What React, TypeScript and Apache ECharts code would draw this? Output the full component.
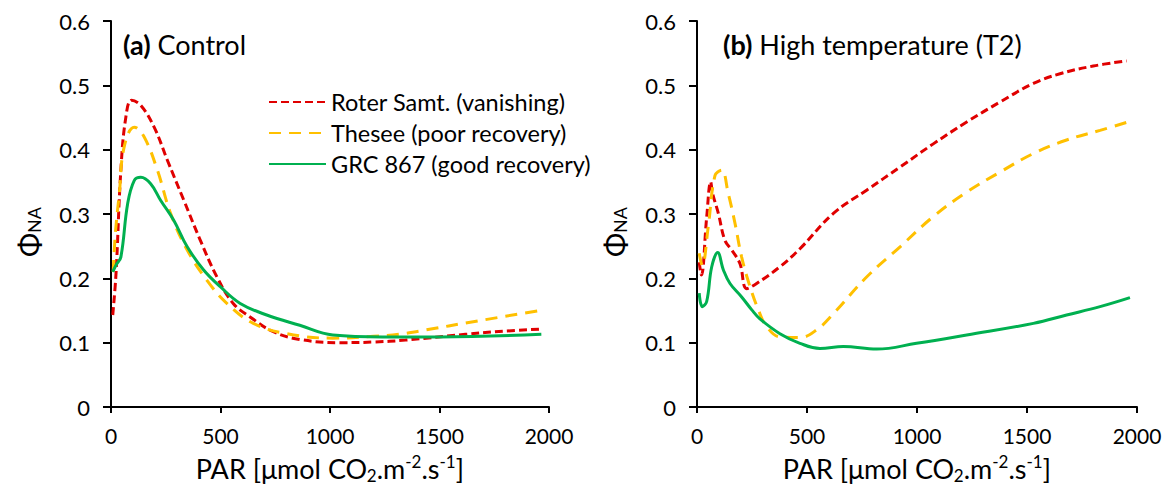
import React, { useEffect, useRef } from "react";
import * as echarts from "echarts";

// Panel (a) Control
const ctrlRoter: [number, number][] = [[8,0.143],[23,0.208],[45,0.368],[68,0.451],[94,0.477],[136,0.469],[197,0.435],[257,0.384],[333,0.321],[408,0.259],[484,0.202],[558,0.161],[635,0.140],[741,0.117],[862,0.105],[1043,0.100],[1200,0.101],[1345,0.104],[1618,0.113],[1799,0.118],[1958,0.121]];
const ctrlThesee: [number, number][] = [[10,0.21],[20,0.27],[38,0.332],[60,0.404],[106,0.435],[151,0.42],[212,0.368],[272,0.301],[348,0.244],[438,0.197],[529,0.161],[650,0.130],[801,0.114],[1013,0.107],[1200,0.110],[1315,0.113],[1406,0.118],[1678,0.134],[1960,0.150]];
const ctrlGRC: [number, number][] = [[8,0.21],[25,0.222],[45,0.233],[76,0.316],[106,0.352],[136,0.357],[181,0.347],[227,0.321],[287,0.290],[348,0.249],[423,0.213],[499,0.187],[590,0.161],[711,0.143],[862,0.127],[1013,0.112],[1240,0.109],[1500,0.109],[1965,0.113]];

// Panel (b) High temperature (T2)
const hotRoter: [number, number][] = [[10,0.225],[20,0.205],[44,0.295],[62,0.350],[71,0.332],[97,0.301],[127,0.259],[158,0.244],[195,0.223],[226,0.184],[271,0.192],[377,0.218],[468,0.246],[620,0.301],[771,0.337],[923,0.373],[1074,0.409],[1226,0.443],[1377,0.474],[1529,0.503],[1650,0.518],[1801,0.530],[1953,0.538]];
const hotThesee: [number, number][] = [[10,0.239],[24,0.22],[51,0.280],[82,0.360],[112,0.368],[142,0.332],[173,0.285],[203,0.233],[241,0.187],[279,0.151],[317,0.125],[377,0.109],[468,0.108],[544,0.120],[620,0.145],[771,0.202],[923,0.249],[1074,0.296],[1226,0.334],[1377,0.365],[1529,0.394],[1680,0.415],[1832,0.430],[1968,0.444]];
const hotGRC: [number, number][] = [[10,0.177],[24,0.156],[44,0.164],[67,0.218],[94,0.240],[120,0.213],[150,0.192],[203,0.171],[249,0.151],[286,0.137],[377,0.114],[468,0.099],[559,0.091],[665,0.094],[817,0.090],[998,0.099],[1226,0.112],[1529,0.130],[1680,0.143],[1832,0.156],[1968,0.170]];

const seriesNames = ["Roter Samt. (vanishing)", "Thesee (poor recovery)", "GRC 867 (good recovery)"];
const panelTitles = ["{b|(a)} Control", "{b|(b)} High temperature (T2)"];
const xTicks = [0, 2000, 500];
const yTicks = [0, 0.6, 0.1];

const FONT = "Lato";
const RED = "#E00000";
const YELLOW = "#FFC000";
const GREEN = "#00B050";

export default function App() {
  const ref = useRef<HTMLDivElement>(null);
  useEffect(() => {
    if (!ref.current) return;
    const chart = echarts.init(ref.current, undefined, { renderer: "svg" });
    const axisLine = { show: true, lineStyle: { color: "#000", width: 2 } };
    const mkX = (idx: number) => ({
      type: "value",
      gridIndex: idx,
      min: xTicks[0],
      max: xTicks[1],
      interval: xTicks[2],
      axisLine,
      axisTick: { show: true, length: 6, lineStyle: { color: "#000", width: 2 } },
      splitLine: { show: false },
      axisLabel: { color: "#000", fontSize: 21, fontFamily: FONT, margin: 18, formatter: (v: number) => String(v) },
      name: "PAR [μmol CO{sub|2}.m{sup|-2}.s{sup|-1}]",
      nameLocation: "middle",
      nameGap: 46,
      nameTextStyle: {
        color: "#000",
        fontSize: 27,
        fontFamily: FONT,
        rich: {
          sub: { fontSize: 17, fontFamily: FONT, color: "#000", verticalAlign: "bottom", padding: [14, 0, 0, 0] },
          sup: { fontSize: 17, fontFamily: FONT, color: "#000", verticalAlign: "top", padding: [0, 0, 12, 0] },
        },
      },
    });
    const mkY = (idx: number) => ({
      type: "value",
      gridIndex: idx,
      min: yTicks[0],
      max: yTicks[1],
      interval: yTicks[2],
      axisLine,
      axisTick: { show: true, length: 8, lineStyle: { color: "#000", width: 2 } },
      splitLine: { show: false },
      axisLabel: { color: "#000", fontSize: 22, fontFamily: FONT, margin: 21 },
      name: "{a|Φ}{b|NA}",
      nameLocation: "middle",
      nameGap: 68,
      nameRotate: 90,
      nameTextStyle: {
        color: "#000",
        padding: [0, 36, 0, 0],
        rich: {
          a: { fontSize: 29, fontFamily: FONT, color: "#000" },
          b: { fontSize: 18, fontFamily: FONT, color: "#000", verticalAlign: "bottom", padding: [12, 0, 0, 0] },
        },
      },
    });
    const mkSeries = (name: string, data: [number, number][], idx: number, color: string, type: any) => ({
      type: "line",
      name,
      data,
      xAxisIndex: idx,
      yAxisIndex: idx,
      showSymbol: false,
      symbol: "none",
      smooth: 0.4,
      lineStyle: { color, width: 3, type },
      itemStyle: { color },
    });
    const titleStyle = {
      fontSize: 27,
      fontWeight: "normal",
      color: "#000",
      fontFamily: FONT,
      rich: { b: { fontSize: 27, fontWeight: "bold", color: "#000", fontFamily: FONT } },
    };
    chart.setOption({
      animation: false,
      backgroundColor: "#fff",
      textStyle: { fontFamily: FONT },
      title: [
        { text: panelTitles[0], left: 118, top: 26, textStyle: titleStyle },
        { text: panelTitles[1], left: 718, top: 26, textStyle: titleStyle },
      ],
      legend: {
        data: seriesNames,
        orient: "vertical",
        left: 268,
        top: 90,
        padding: 0,
        itemWidth: 57,
        itemHeight: 14,
        itemGap: 7,
        itemStyle: { opacity: 0, borderWidth: 0 },
        textStyle: { fontSize: 23.5, lineHeight: 24, fontFamily: FONT, color: "#000" },
        selectedMode: false,
      },
      grid: [
        { left: 111, right: 620, top: 21, bottom: 88 },
        { left: 697, right: 32, top: 21, bottom: 88 },
      ],
      xAxis: [mkX(0), mkX(1)],
      yAxis: [mkY(0), mkY(1)],
      series: [
        mkSeries(seriesNames[0], ctrlRoter, 0, RED, [8, 4]),
        mkSeries(seriesNames[1], ctrlThesee, 0, YELLOW, [12, 8]),
        mkSeries(seriesNames[2], ctrlGRC, 0, GREEN, "solid"),
        mkSeries(seriesNames[0], hotRoter, 1, RED, [8, 4]),
        mkSeries(seriesNames[1], hotThesee, 1, YELLOW, [12, 8]),
        mkSeries(seriesNames[2], hotGRC, 1, GREEN, "solid"),
      ],
    });
    return () => chart.dispose();
  }, []);
  return <div ref={ref} style={{ position: "absolute", left: 0, top: 0, width: 1169, height: 495 }} />;
}
